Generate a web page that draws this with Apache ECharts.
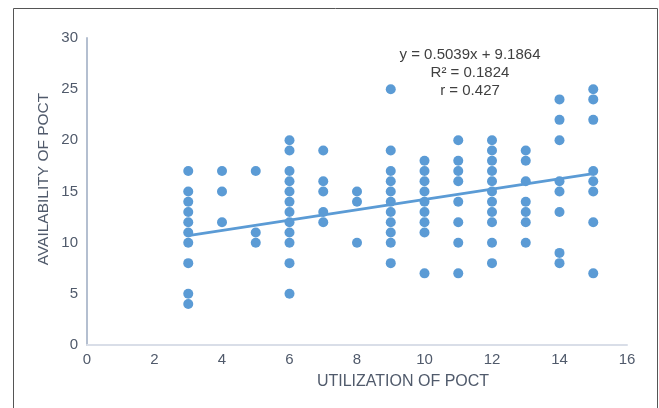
<!DOCTYPE html>
<html>
<head>
<meta charset="utf-8">
<script src="https://cdn.jsdelivr.net/npm/echarts@6/dist/echarts.min.js"></script>
<style>
html,body{margin:0;padding:0;background:#fff;}
#chart{width:659px;height:408px;}
</style>
</head>
<body>
<div id="chart"></div>
<script>
// Data: utilization value and the availability values observed at it
var utilization = [3, 4, 5, 6, 7, 8, 9, 10, 11, 12, 13, 14, 15];
var availability = [
  [17, 15, 14, 13, 12, 11, 10, 8, 5, 4],
  [17, 15, 12],
  [17, 11, 10],
  [20, 19, 17, 16, 15, 14, 13, 12, 11, 10, 8, 5],
  [19, 16, 15, 13, 12],
  [15, 14, 10],
  [25, 19, 17, 16, 15, 14, 13, 12, 11, 10, 8],
  [18, 17, 16, 15, 14, 13, 12, 11, 7],
  [20, 18, 17, 16, 14, 12, 10, 7],
  [20, 19, 18, 17, 16, 15, 14, 13, 12, 10, 8],
  [19, 18, 16, 14, 13, 12, 10],
  [24, 22, 20, 16, 15, 13, 9, 8],
  [25, 24, 22, 17, 16, 15, 12, 7]
];
var trendSlope = 0.5039;
var trendIntercept = 9.1864;
var trendRange = [3, 15];
var xTicks = [0, 16, 2];   // min, max, interval
var yTicks = [0, 30, 5];
var equationLines = ['y = 0.5039x + 9.1864', 'R² = 0.1824', 'r = 0.427'];

var points = [];
utilization.forEach(function (u, i) {
  availability[i].forEach(function (v) { points.push([u, v]); });
});
var trend = trendRange.map(function (x) { return [x, trendSlope * x + trendIntercept]; });

var chart = echarts.init(document.getElementById('chart'), null, {renderer: 'canvas'});
var labelColor = '#505a6b';
var ff = 'Liberation Sans, Arial';
chart.setOption({
  animation: false,
  backgroundColor: '#ffffff',
  grid: {left: 87, right: 32, top: 38, bottom: 63},
  xAxis: {
    type: 'value', min: xTicks[0], max: xTicks[1], interval: xTicks[2],
    axisLine: {show: true, lineStyle: {color: '#d9dee8', width: 2}},
    axisTick: {show: false},
    splitLine: {show: false},
    axisLabel: {color: labelColor, fontSize: 15, fontFamily: ff, margin: 7}
  },
  yAxis: {
    type: 'value', min: yTicks[0], max: yTicks[1], interval: yTicks[2],
    axisLine: {show: true, lineStyle: {color: '#b4bfd0', width: 2}},
    axisTick: {show: false},
    splitLine: {show: false},
    axisLabel: {color: labelColor, fontSize: 15, fontFamily: ff, margin: 9}
  },
  series: [
    {
      type: 'scatter', data: points, symbolSize: 10,
      itemStyle: {color: '#5b9bd5', opacity: 1}, z: 3
    },
    {
      type: 'line', data: trend, showSymbol: false, symbol: 'none',
      lineStyle: {color: '#5b9bd5', width: 2.75}, z: 2
    }
  ],
  graphic: [
    {type: 'rect', shape: {x: 13.5, y: 8.5, width: 644, height: 420}, style: {fill: 'none', stroke: '#555555', lineWidth: 1}, silent: true},
    {type: 'text', x: 403, y: 382, style: {text: 'UTILIZATION OF POCT', fill: labelColor, fontSize: 16, fontFamily: ff, textAlign: 'center', textVerticalAlign: 'middle'}},
    {type: 'text', x: 44, y: 179, rotation: Math.PI / 2, style: {text: 'AVAILABILITY OF POCT', fill: labelColor, fontSize: 15.5, fontFamily: ff, textAlign: 'center', textVerticalAlign: 'middle'}},
    {type: 'text', x: 470, y: 55, style: {text: equationLines[0], fill: '#404040', fontSize: 15, fontFamily: ff, textAlign: 'center', textVerticalAlign: 'middle'}},
    {type: 'text', x: 470, y: 73, style: {text: equationLines[1], fill: '#404040', fontSize: 15, fontFamily: ff, textAlign: 'center', textVerticalAlign: 'middle'}},
    {type: 'text', x: 470, y: 91, style: {text: equationLines[2], fill: '#404040', fontSize: 15, fontFamily: ff, textAlign: 'center', textVerticalAlign: 'middle'}}
  ]
});
</script>
</body>
</html>
